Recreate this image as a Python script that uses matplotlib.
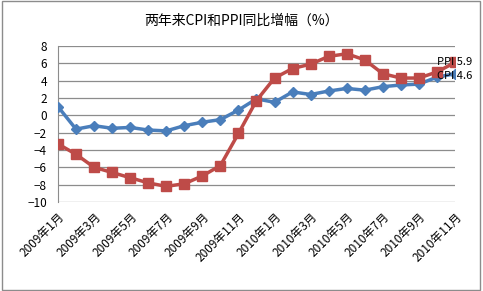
import matplotlib
matplotlib.use("Agg")
import matplotlib.pyplot as plt
import numpy as np

plt.rcParams['font.family'] = ['Noto Sans CJK SC', 'DejaVu Sans']

months = [f"2009年{m}月" for m in range(1, 13)] + [f"2010年{m}月" for m in range(1, 12)]
cpi = [1.0, -1.6, -1.2, -1.5, -1.4, -1.7, -1.8, -1.2, -0.8, -0.5, 0.6, 1.9,
       1.5, 2.7, 2.4, 2.8, 3.1, 2.9, 3.3, 3.5, 3.6, 4.4, 4.8]
ppi = [-3.3, -4.5, -6.0, -6.6, -7.2, -7.8, -8.2, -7.9, -7.0, -5.8, -2.1, 1.7,
       4.3, 5.4, 5.9, 6.8, 7.1, 6.4, 4.8, 4.3, 4.3, 5.0, 6.1]
label_texts = ["PPI 5.9", "CPI 4.6"]
title = "两年来CPI和PPI同比增幅（%）"

fig = plt.figure(figsize=(4.83, 2.91), dpi=100)
fig.patch.set_facecolor('white')
fig.add_artist(plt.Rectangle((0.004, 0.005), 0.99, 0.99, transform=fig.transFigure,
                             fill=False, edgecolor='#8c8c8c', linewidth=1.0))
ax = fig.add_axes([0.120, 0.306, 0.822, 0.536])

x = np.arange(len(months))
ax.plot(x, cpi, color='#4A7EBB', linewidth=2.5, marker='D', markersize=5.5, zorder=3)
ax.plot(x, ppi, color='#BE4B48', linewidth=2.5, marker='s', markersize=7, zorder=4)

ax.set_xlim(0, len(months) - 1)
ax.set_ylim(-10, 8)
ax.set_yticks(np.arange(-10, 9, 2))
ax.yaxis.grid(True, color='#8c8c8c', linewidth=0.9)
ax.set_axisbelow(True)
for s in ['top', 'right', 'bottom']:
    ax.spines[s].set_visible(False)
ax.spines['left'].set_color('#8c8c8c')
ax.tick_params(axis='y', length=0, labelsize=8.5, pad=8)
ax.tick_params(axis='x', length=0, labelsize=8.5, pad=6)
ax.set_xticks(x[::2])
ax.set_xticklabels(months[::2], rotation=45, ha='right', rotation_mode='anchor')

ax.annotate(label_texts[0], (x[-1], ppi[-1]), xytext=(-13, 0.5), textcoords='offset points',
            fontsize=8, ha='left', va='center', zorder=6)
ax.annotate(label_texts[1], (x[-1], cpi[-1]), xytext=(-13, -2), textcoords='offset points',
            fontsize=8, ha='left', va='center', zorder=6)

fig.text(0.50, 0.93, title, ha='center', va='center', fontsize=10)

fig.savefig('out.png', dpi=100)
